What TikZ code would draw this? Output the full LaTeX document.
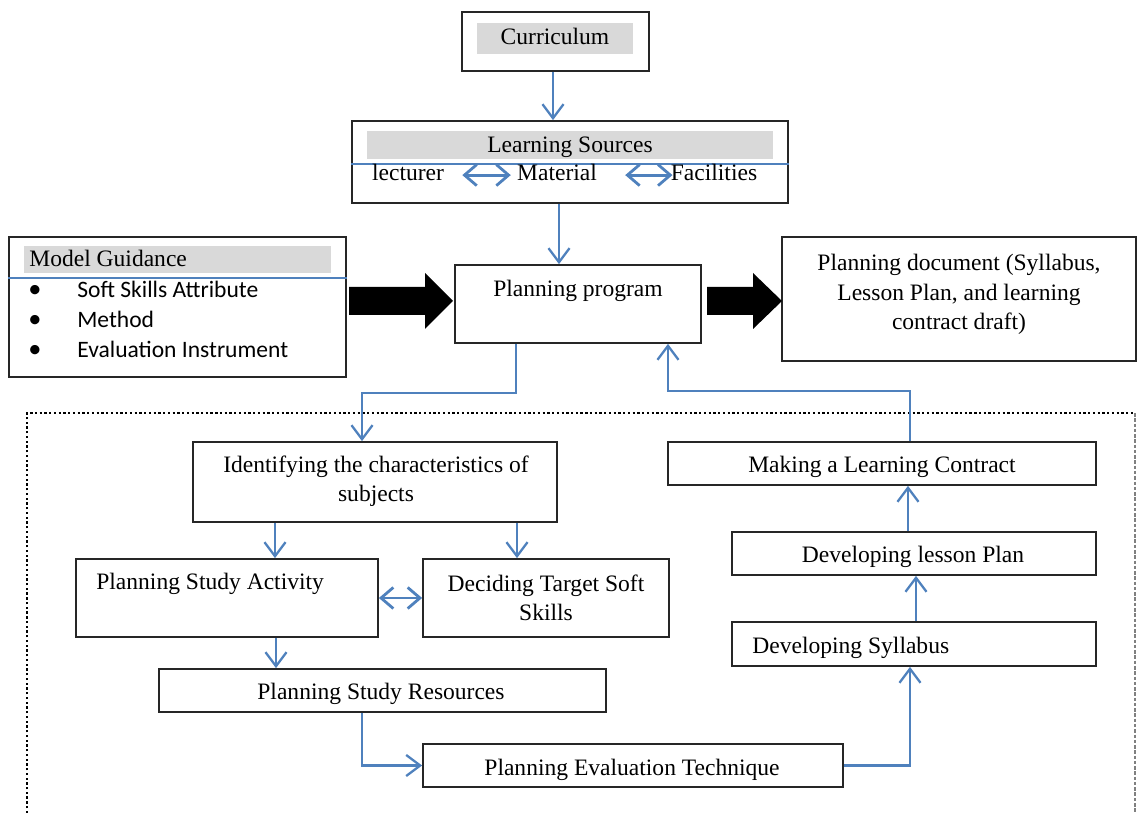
\documentclass[tikz,border=0pt]{standalone}
\usepackage{fontspec}
\setmainfont{Liberation Serif}
\newfontfamily\calibri{Carlito}
\usetikzlibrary{arrows.meta, calc, fit}
\definecolor{wordblue}{RGB}{79,129,189}
\definecolor{shade}{RGB}{217,217,217}

\tikzset{
  box/.style={draw=black!85, line width=1pt, inner sep=0pt},
  band/.style={fill=shade, inner sep=0pt},
  txt/.style={font=\fontsize{13.4}{17}\selectfont, inner sep=0pt, text height=9.5pt, text depth=2.8pt},
  txtm/.style={font=\fontsize{13.4}{17}\selectfont, inner sep=0pt, align=center},
  flow/.style={draw=wordblue, line width=1.3pt, -{Straight Barb[length=8pt,width=12pt]}},
  twoway/.style={draw=wordblue, line width=1.6pt, {Straight Barb[length=7pt,width=12pt]}-{Straight Barb[length=7pt,width=12pt]}},
  rule/.style={draw=wordblue, line width=0.7pt}
}

\begin{document}
\begin{tikzpicture}[x=0.02cm, y=-0.02cm]
    \useasboundingbox (0,0) rectangle (1137,813);

    % top column
    \node[band, fit={(477,23) (633,54)}] (curband) {};
    \node[box, fit={(462,12) (649,71)}] (cur) {};
    \node[txt, anchor=base] (curt) at (555,45) {Curriculum};

    \node[band, fit={(367,131) (773,159)}] (lsband) {};
    \node[box, fit={(352,121) (788,203)}] (ls) {};
    \draw[rule] (ls.west |- 0,164) -- (ls.east |- 0,164);
    \node[txt, anchor=base] (lst) at (570,153) {Learning Sources};
    \node[txt, anchor=base] (lec) at (408,181) {lecturer};
    \node[txt, anchor=base] (mat) at (557,181) {Material};
    \node[txt, anchor=base] (fac) at (714,181) {Facilities};
    \draw[twoway] ($(lec.east)+(18,0)$) -- ($(mat.west)+(-6,0)$);
    \draw[twoway] ($(mat.east)+(28,0)$) -- ($(fac.west)+(2,0)$);

    % middle row
    \node[band, fit={(24,246) (331,273)}] (mgband) {};
    \node[box, fit={(9,237) (346,377)}] (mg) {};
    \draw[rule] (mg.west |- 0,278) -- (mg.east |- 0,278);
    \node[txt, anchor=base west] (mgt) at (29,267) {Model Guidance};
    \foreach \y/\item [count=\i] in {298/Soft Skills Attribute, 328/Method, 358/Evaluation Instrument} {
        \node[txt, anchor=base] (mgb\i) at (35,\y) {\calibri\fontsize{15}{17}\selectfont •};
        \node[txt, anchor=base west] (mgi\i) at (77,\y) {\calibri \item};
    }

    \node[box, fit={(455,265) (701,343)}] (pp) {};
    \node[txt, anchor=base] (ppt) at (578,297) {Planning program};

    \node[box, fit={(782,237) (1136,361)}] (pd) {};
    \node[txtm, anchor=base] (pdt) at (959,330) {Planning document (Syllabus,\\Lesson Plan, and learning\\contract draft)};

    \fill (349,287) -- (425,287) -- (425,273) -- (453,301) -- (425,329) -- (425,315) -- (349,315) -- cycle;
    \fill (707,287) -- (753,287) -- (753,273) -- (782,301) -- (753,329) -- (753,315) -- (707,315) -- cycle;

    % dotted frame, open at the bottom
    \draw[line width=1.4pt, dash pattern=on 1.3pt off 1.4pt] (27,813) -- (27,413) -- (1135,413);
    \draw[gray, line width=0.6pt, dash pattern=on 2pt off 1pt] (1135,413) -- (1135,813);

    % left branch
    \node[box, fit={(193,442) (557,522)}] (id) {};
    \node[txtm, anchor=base] (idt) at (376,502) {Identifying the characteristics of\\subjects};
    \node[box, fit={(76,559) (378,637)}] (psa) {};
    \node[txt, anchor=base west] (psat) at (96,590) {Planning Study Activity};
    \node[box, fit={(423,559) (669,637)}] (dts) {};
    \node[txtm, anchor=base] (dtst) at (546,621) {Deciding Target Soft\\Skills};
    \node[box, fit={(159,669) (606,712)}] (psr) {};
    \node[txt, anchor=base] (psrt) at (381,700) {Planning Study Resources};
    \node[box, fit={(423,744) (843,787)}] (pet) {};
    \node[txt, anchor=base] (pett) at (632,776) {Planning Evaluation Technique};

    % right branch
    \node[box, fit={(668,442) (1096,485)}] (mlc) {};
    \node[txt, anchor=base] (mlct) at (882,473) {Making a Learning Contract};
    \node[box, fit={(732,532) (1096,575)}] (dlp) {};
    \node[txt, anchor=base] (dlpt) at (913,563) {Developing lesson Plan};
    \node[box, fit={(732,622) (1096,666)}] (ds) {};
    \node[txt, anchor=base west] (dst) at (752,654) {Developing Syllabus};

    % connectors
    \draw[flow] ($(cur.south)+(-2.5,0)$) -- ($(ls.north)+(-17,0)$);
    \draw[flow] ($(ls.south)+(-11,0)$) -- ($(pp.north)+(-19,0)$);
    \draw[flow] ($(pp.south)+(-62,0)$) -- ++(0,49) -| ($(id.north)+(-13,0)$);
    \draw[flow] ($(mlc.north)+(28,0)$) -- ++(0,-50) -| ($(pp.south)+(90,0)$);
    \draw[flow] ($(id.south)+(-100,0)$) -- ($(psa.north)+(48,0)$);
    \draw[flow] ($(id.south)+(142,0)$) -- ($(dts.north)+(-29,0)$);
    \draw[twoway] (psa.east) -- (dts.west);
    \draw[flow] ($(psa.south)+(49,0)$) -- ($(psr.north)+(-106.5,0)$);
    \draw[flow] ($(psr.south)+(-20.5,0)$) |- (pet.west);
    \draw[flow] (pet.east) -| ($(ds.south)+(-4,0)$);
    \draw[flow] ($(ds.north)+(2,0)$) -- ($(dlp.south)+(2,0)$);
    \draw[flow] ($(dlp.north)+(-6,0)$) -- ($(mlc.south)+(26,0)$);
\end{tikzpicture}
\end{document}
